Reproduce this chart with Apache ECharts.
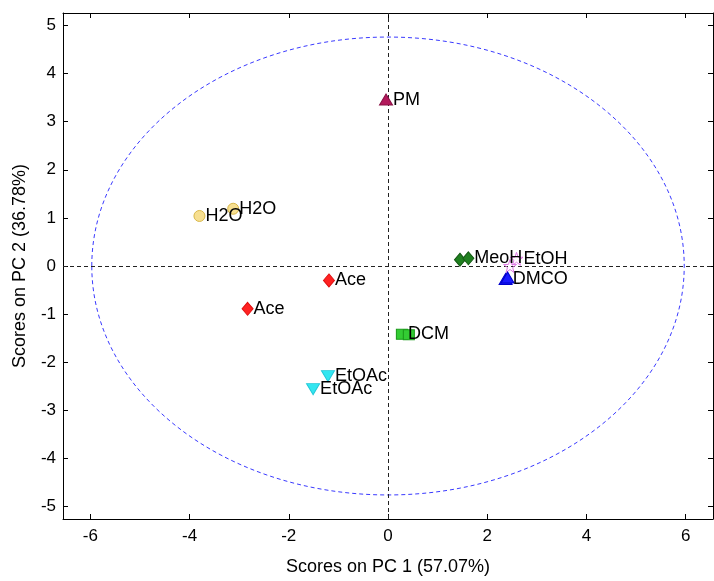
<!DOCTYPE html>
<html>
<head>
<meta charset="utf-8">
<script src="https://cdn.jsdelivr.net/npm/echarts@6/dist/echarts.min.js"></script>
<style>html,body{margin:0;padding:0;background:#fff;}#c{width:714px;height:581px;}</style>
</head>
<body>
<div id="c"></div>
<script>
// ---- data ----
var xTicks = [-6, -4, -2, 0, 2, 4, 6];
var yTicks = [-5, -4, -3, -2, -1, 0, 1, 2, 3, 4, 5];
var xRange = [-6.55, 6.55];
var yRange = [-5.26, 5.26];
var ellipseRadii = [5.97, 4.76];

var PM    = [[-0.04, 3.46]];
var H2O   = [[-3.80, 1.04], [-3.12, 1.19]];
var Ace   = [[-1.19, -0.30], [-2.83, -0.89]];
var DCM   = [[0.28, -1.42], [0.42, -1.43]];
var EtOAc = [[-1.21, -2.29], [-1.51, -2.56]];
var MeoH  = [[1.45, 0.13], [1.62, 0.16]];
var EtOH  = [[2.59, 0.15], [2.46, 0.00]];
var DMCO  = [[2.37, -0.27], [2.41, -0.24]];
// which points carry a visible text label (1 = shown)
var PMShown    = [1];
var H2OShown   = [1, 1];
var AceShown   = [1, 1];
var DCMShown   = [1, 0];
var EtOAcShown = [1, 1];
var MeoHShown  = [0, 1];
var EtOHShown  = [1, 0];
var DMCOShown  = [1, 0];

var FONT = "'Liberation Sans', Arial, sans-serif";
var starPath = 'path://M50,0 L61.8,35.5 L97.6,35.5 L68.8,57.4 L79.4,92.7 L50,71 L20.6,92.7 L31.2,57.4 L2.4,35.5 L38.2,35.5 Z';

function pts(name, data, shown, symbol, size, color, border, extra) {
  var items = data.map(function (d, i) {
    return { value: d, label: { show: !!shown[i] } };
  });
  var s = {
    name: name, type: 'scatter', data: items, symbol: symbol, symbolSize: size,
    itemStyle: { color: color, borderColor: border || color, borderWidth: 1, opacity: 1 },
    label: {
      show: true, position: 'right', distance: 0, offset: [-3, 4],
      formatter: '{a}', color: '#000', fontSize: 18, fontFamily: FONT
    },
    labelLayout: { hideOverlap: false },
    emphasis: { disabled: true }, z: 5
  };
  if (extra) for (var k in extra) s[k] = extra[k];
  return s;
}

function axis(o) {
  var base = {
    type: 'value',
    axisLine: { show: true, onZero: false, lineStyle: { color: '#000', width: 1 } },
    splitLine: { show: false }
  };
  for (var k in o) base[k] = o[k];
  return base;
}
function ticks(vals) {
  return { show: true, inside: true, length: 5, customValues: vals, lineStyle: { color: '#000' } };
}

var option = {
  animation: false,
  backgroundColor: '#fff',
  grid: { left: 63, top: 13, right: 1, bottom: 54 },
  xAxis: [
    axis({
      position: 'bottom', min: xRange[0], max: xRange[1],
      axisTick: ticks(xTicks),
      axisLabel: { color: '#000', fontSize: 17, fontFamily: FONT, margin: 9, customValues: xTicks },
      name: 'Scores on PC 1 (57.07%)', nameLocation: 'middle', nameGap: 39,
      nameTextStyle: { color: '#000', fontSize: 18, fontFamily: FONT }
    }),
    axis({
      position: 'top', min: xRange[0], max: xRange[1],
      axisTick: ticks(xTicks), axisLabel: { show: false }
    })
  ],
  yAxis: [
    axis({
      position: 'left', min: yRange[0], max: yRange[1],
      axisTick: ticks(yTicks),
      axisLabel: { color: '#000', fontSize: 17, fontFamily: FONT, margin: 7, customValues: yTicks },
      name: 'Scores on PC 2 (36.78%)', nameLocation: 'middle', nameGap: 34,
      nameTextStyle: { color: '#000', fontSize: 18, fontFamily: FONT }
    }),
    axis({
      position: 'right', min: yRange[0], max: yRange[1],
      axisTick: ticks(yTicks), axisLabel: { show: false }
    })
  ],
  series: [
    {
      type: 'custom', name: 'ellipse', data: [[0, 0]], silent: true, z: 1,
      renderItem: function (params, api) {
        var c = api.coord([0, 0]);
        var s = api.size([ellipseRadii[0], ellipseRadii[1]]);
        return {
          type: 'ellipse',
          shape: { cx: c[0], cy: c[1], rx: s[0], ry: s[1] },
          style: { fill: 'none', stroke: '#3a3aff', lineWidth: 1, lineDash: [4, 3] }
        };
      }
    },
    {
      type: 'scatter', name: 'axes0', data: [], silent: true, z: 2,
      markLine: {
        silent: true, symbol: 'none', animation: false,
        label: { show: false },
        lineStyle: { color: '#222', type: [4, 3], width: 1 },
        data: [{ xAxis: 0 }, { yAxis: 0 }]
      }
    },
    pts('PM', PM, PMShown, 'triangle', [13, 11], '#b3195c', '#8a1045'),
    pts('H2O', H2O, H2OShown, 'circle', 11, '#f7df90', '#d9b84a'),
    pts('Ace', Ace, AceShown, 'diamond', [11, 13], '#ff2222', '#e01010'),
    pts('DCM', DCM, DCMShown, 'rect', [11, 10], '#33cc33', '#1a9a1a'),
    pts('EtOAc', EtOAc, EtOAcShown, 'triangle', [13, 11], '#33e6f0', '#22c8d8', { symbolRotate: 180 }),
    pts('MeoH', MeoH, MeoHShown, 'diamond', [11, 13], '#1f7f1f', '#145a14'),
    pts('EtOH', EtOH, EtOHShown, starPath, 13, 'rgba(255,255,255,0)', '#e07ae6'),
    pts('DMCO', DMCO, DMCOShown, 'triangle', [13, 11], '#1a1aff', '#0000cc')
  ]
};

var chart = echarts.init(document.getElementById('c'), null, { renderer: 'canvas' });
chart.setOption(option);
</script>
</body>
</html>
